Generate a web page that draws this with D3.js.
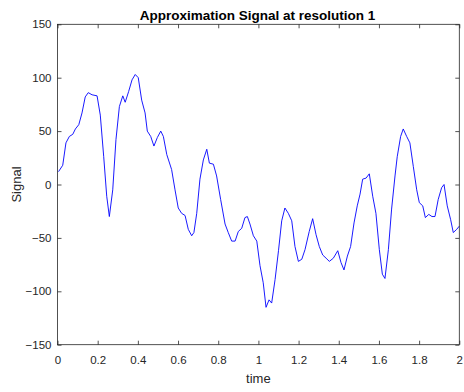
<!DOCTYPE html>
<html>
<head>
<meta charset="utf-8">
<script src="https://cdn.jsdelivr.net/npm/d3@7"></script>
<style>
  body { margin: 0; background: #fff; }
  svg text { font-family: "Liberation Sans", Arial, sans-serif; }
</style>
</head>
<body>
<svg id="chart" width="464" height="392"></svg>
<script>
// values
const times = [
  0.005, 0.026, 0.042, 0.059, 0.076, 0.089, 0.106, 0.122, 0.138, 0.153, 0.172, 0.197,
  0.213, 0.230, 0.245, 0.258, 0.275, 0.291, 0.308, 0.325, 0.337, 0.354, 0.371, 0.387,
  0.402, 0.419, 0.436, 0.447, 0.464, 0.480, 0.497, 0.514, 0.527, 0.544, 0.568, 0.585,
  0.601, 0.618, 0.635, 0.651, 0.668, 0.679, 0.693, 0.709, 0.726, 0.743, 0.756, 0.776,
  0.792, 0.812, 0.834, 0.850, 0.867, 0.884, 0.900, 0.917, 0.933, 0.945, 0.958, 0.975,
  0.992, 1.008, 1.024, 1.038, 1.053, 1.066, 1.083, 1.100, 1.116, 1.132, 1.149, 1.166,
  1.182, 1.199, 1.216, 1.232, 1.253, 1.270, 1.287, 1.303, 1.320, 1.337, 1.353, 1.373,
  1.395, 1.411, 1.426, 1.443, 1.459, 1.476, 1.492, 1.506, 1.519, 1.536, 1.552, 1.569,
  1.585, 1.602, 1.617, 1.630, 1.647, 1.663, 1.680, 1.691, 1.708, 1.721, 1.738, 1.754,
  1.771, 1.788, 1.801, 1.818, 1.831, 1.848, 1.864, 1.879, 1.895, 1.912, 1.924, 1.940,
  1.957, 1.970, 1.987, 2.000
];
const signal = [
  12, 18, 39, 45, 47, 52, 56, 67, 82, 86, 84, 83,
  65, 26, -11, -30, -5, 42, 73, 83, 77, 87, 98, 103,
  100, 79, 67, 50, 45, 36, 44, 50, 45, 28, 14, -5,
  -22, -27, -29, -42, -48, -45, -27, 5, 23, 33, 20, 19,
  8, -14, -37, -45, -53, -53, -44, -41, -31, -30, -37, -48,
  -53, -76, -92, -115, -108, -111, -89, -62, -34, -22, -27, -34,
  -58, -72, -70, -61, -44, -32, -47, -58, -66, -69, -72, -69,
  -62, -73, -80, -67, -58, -36, -20, -9, 5, 6, 10, -11,
  -27, -61, -84, -88, -61, -23, 8, 26, 45, 52, 45, 39,
  17, -5, -17, -20, -31, -28, -30, -30, -14, -3, 0, -20,
  -33, -45, -42, -39
];
const xTicks = [0, 0.2, 0.4, 0.6, 0.8, 1, 1.2, 1.4, 1.6, 1.8, 2];
const yTicks = [-150, -100, -50, 0, 50, 100, 150];

const plotLeft = 57.5, plotRight = 459.3, plotTop = 24.3, plotBottom = 344.7;
const axisColor = "#262626";
const tickLen = 4;

const svg = d3.select("#chart");
const x = d3.scaleLinear().domain([0, 2]).range([plotLeft, plotRight]);
const y = d3.scaleLinear().domain([-150, 150]).range([plotBottom, plotTop]);

const points = times.map((t, i) => [t, signal[i]]);

svg.append("path")
  .datum(points)
  .attr("fill", "none")
  .attr("stroke", "#0000ff")
  .attr("stroke-width", 0.9)
  .attr("stroke-linejoin", "round")
  .attr("d", d3.line().x(d => x(d[0])).y(d => y(d[1])));

function styleAxis(g) {
  g.select(".domain").remove();
  g.selectAll(".tick line").attr("stroke", axisColor).attr("stroke-width", 0.8);
  g.selectAll(".tick text")
    .attr("fill", axisColor)
    .style("font-size", "11.5px");
}

// bottom and left axes carry the labels, ticks point inward
svg.append("g")
  .attr("transform", `translate(0,${plotBottom})`)
  .call(d3.axisBottom(x).tickValues(xTicks).tickSizeInner(-tickLen).tickSizeOuter(0).tickPadding(11).tickFormat(d3.format("")))
  .call(styleAxis);

svg.append("g")
  .attr("transform", `translate(0,${plotTop})`)
  .call(d3.axisTop(x).tickValues(xTicks).tickSizeInner(-tickLen).tickSizeOuter(0).tickFormat(""))
  .call(styleAxis);

svg.append("g")
  .attr("transform", `translate(${plotLeft},0)`)
  .call(d3.axisLeft(y).tickValues(yTicks).tickSizeInner(-tickLen).tickSizeOuter(0).tickPadding(6))
  .call(styleAxis);

svg.append("g")
  .attr("transform", `translate(${plotRight},0)`)
  .call(d3.axisRight(y).tickValues(yTicks).tickSizeInner(-tickLen).tickSizeOuter(0).tickFormat(""))
  .call(styleAxis);

svg.append("rect")
  .attr("x", plotLeft)
  .attr("y", plotTop)
  .attr("width", plotRight - plotLeft)
  .attr("height", plotBottom - plotTop)
  .attr("fill", "none")
  .attr("stroke", axisColor)
  .attr("stroke-width", 0.8);

svg.append("text")
  .attr("x", 257.5)
  .attr("y", 20)
  .attr("text-anchor", "middle")
  .attr("font-weight", "bold")
  .attr("font-size", "13.5px")
  .attr("fill", "#000")
  .text("Approximation Signal at resolution 1");

svg.append("text")
  .attr("x", (plotLeft + plotRight) / 2)
  .attr("y", 383)
  .attr("text-anchor", "middle")
  .attr("font-size", "13px")
  .attr("fill", axisColor)
  .text("time");

svg.append("text")
  .attr("transform", `translate(21,${(plotTop + plotBottom) / 2}) rotate(-90)`)
  .attr("text-anchor", "middle")
  .attr("font-size", "13px")
  .attr("fill", axisColor)
  .text("Signal");
</script>
</body>
</html>
